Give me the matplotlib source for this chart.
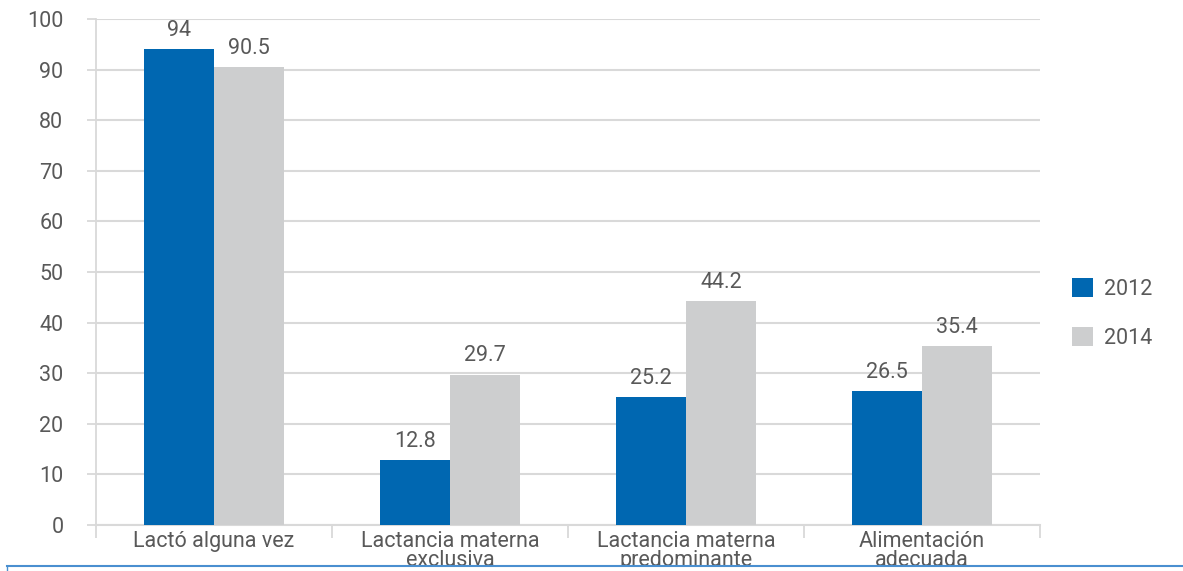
import numpy as np
import matplotlib.pyplot as plt
from matplotlib.patches import Rectangle

plt.rcParams['font.family'] = ['Roboto', 'DejaVu Sans']

# data
categories = ['Lactó alguna vez', 'Lactancia materna\nexclusiva',
              'Lactancia materna\npredominante', 'Alimentación\nadecuada']
v2012 = [94, 12.8, 25.2, 26.5]
v2014 = [90.5, 29.7, 44.2, 35.4]
lab2012 = ['94', '12.8', '25.2', '26.5']
lab2014 = ['90.5', '29.7', '44.2', '35.4']

blue = '#0067b1'
grey = '#cdcecf'
txt = '#595959'
gridc = '#d9d9d9'
fs = 15.5

fig = plt.figure(figsize=(11.83, 5.71), dpi=100)
ax = fig.add_axes([0.0812, 0.0806, 0.7980, 0.8861])

x = np.arange(len(categories))
w = 0.296
b1 = ax.bar(x - w/2, v2012, w, color=blue, label='2012', zorder=3)
b2 = ax.bar(x + w/2, v2014, w, color=grey, label='2014', zorder=3)

for rect, s in zip(b1, lab2012):
    ax.annotate(s, (rect.get_x() + rect.get_width()/2, rect.get_height()),
                xytext=(0, 6), textcoords='offset points', ha='center', va='bottom',
                fontsize=fs, color=txt)
for rect, s in zip(b2, lab2014):
    ax.annotate(s, (rect.get_x() + rect.get_width()/2, rect.get_height()),
                xytext=(0, 6), textcoords='offset points', ha='center', va='bottom',
                fontsize=fs, color=txt)

ax.set_xlim(-0.5, len(categories) - 0.5)
ax.set_ylim(0, 100)
ax.set_yticks(np.arange(0, 101, 10))
ax.yaxis.grid(True, color=gridc, linewidth=1.5, zorder=0)
ax.tick_params(axis='y', length=6.5, width=1.3, color=gridc, pad=17, labelsize=fs, labelcolor=txt)

ax.set_xticks(x)
ax.set_xticklabels(categories, fontsize=fs, color=txt, linespacing=0.9)
ax.set_xticks(np.arange(-0.5, len(categories)), minor=True)
ax.tick_params(axis='x', which='major', length=0, pad=4)
ax.tick_params(axis='x', which='minor', length=9, width=1.3, color=gridc)

for s in ['top', 'right']:
    ax.spines[s].set_visible(False)
ax.spines['left'].set_color(gridc)
ax.spines['left'].set_linewidth(1.3)
ax.spines['bottom'].set_color(gridc)
ax.spines['bottom'].set_linewidth(1.5)

leg = fig.legend(handles=[b1, b2], loc='upper left', bbox_to_anchor=(0.906, 0.513),
                 frameon=False, fontsize=fs, handlelength=1.0, handleheight=1.0,
                 labelspacing=1.25, handletextpad=0.5, borderaxespad=0, borderpad=0)
for t in leg.get_texts():
    t.set_color(txt)

# frame line at the bottom, text below it cut off
fig.patches.append(Rectangle((0, 0), 1, 0.0088, transform=fig.transFigure,
                             facecolor='white', edgecolor='none', zorder=10))
fig.add_artist(plt.Line2D([0.006, 1], [0.0088, 0.0088], transform=fig.transFigure,
                          color='#4a8fd0', linewidth=1.5, zorder=11))
fig.add_artist(plt.Line2D([0.006, 0.006], [0.0, 0.0088], transform=fig.transFigure,
                          color='#4a8fd0', linewidth=1.0, zorder=11))

fig.savefig('out.png', dpi=100)
